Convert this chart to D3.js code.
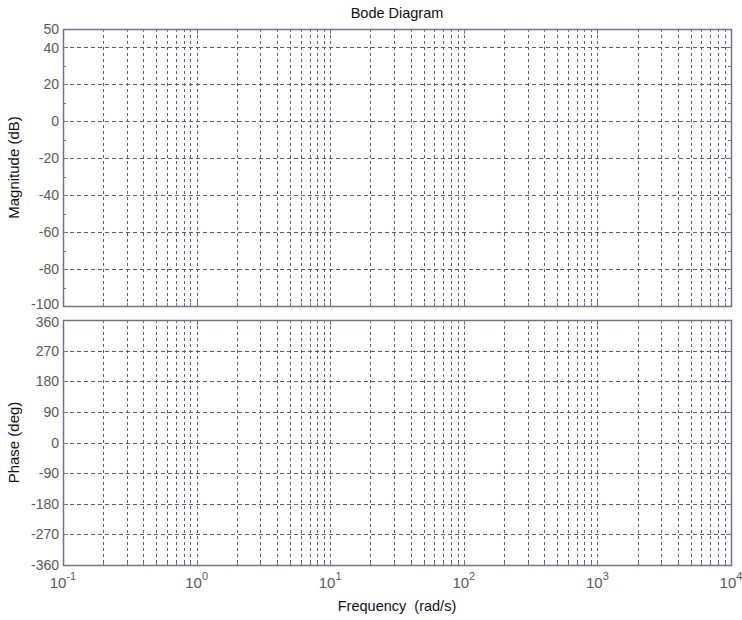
<!DOCTYPE html>
<html lang="en">
<head>
  <meta charset="UTF-8">
  <title>Bode Diagram</title>
  <script src="https://d3js.org/d3.v7.min.js"></script>
  <style>
    body {
      margin: 0;
      background: #ffffff;
      font-family: 'Liberation Sans', Arial, sans-serif;
    }
    .tick-label {
      font-size: 14px;
      fill: #585858;
    }
    .grid line {
      stroke: #5a5a82;
      stroke-width: 1;
      stroke-dasharray: 3,3;
    }
  </style>
</head>
<body>
  <div id="chart"></div>
  <script>
    const freqDomain = [0.1, 10000];
    const decades = [-1, 0, 1, 2, 3, 4];
    const magDomain = [-100, 50];
    const magTicks = [-100, -80, -60, -40, -20, 0, 20, 40, 50];
    const magMinor = [-90, -70, -50, -30, -10, 10, 30];
    const phaseDomain = [-360, 360];
    const phaseTicks = [-360, -270, -180, -90, 0, 90, 180, 270, 360];

    const W = 742, H = 620;
    const left = 63, right = 731;
    const magTop = 29, magBottom = 306;
    const phTop = 320, phBottom = 565;
    const axisColor = "#707090";

    const svg = d3.select("#chart").append("svg")
      .attr("width", W)
      .attr("height", H);

    const x = d3.scaleLog().domain(freqDomain).range([left, right]);

    // minor frequencies 2..9 x each decade
    const minorFreqs = [];
    decades.slice(0, -1).forEach(e => {
      for (let k = 2; k <= 9; k++) minorFreqs.push(k * Math.pow(10, e));
    });
    const majorFreqs = decades.map(e => Math.pow(10, e));

    // shiftLow / shiftHigh nudge the end labels apart where the panels meet
    function panel(yDomain, top, bottom, ticks, minor, shiftLow, shiftHigh) {
      const y = d3.scaleLinear().domain(yDomain).range([bottom, top]);
      const g = svg.append("g");

      // vertical grid
      const grid = g.append("g").attr("class", "grid");
      grid.selectAll(".vx")
        .data(minorFreqs.concat(majorFreqs.slice(1, -1)))
        .enter().append("line")
        .attr("x1", d => Math.round(x(d)) + 0.5)
        .attr("x2", d => Math.round(x(d)) + 0.5)
        .attr("y1", top)
        .attr("y2", bottom);

      // horizontal grid
      grid.selectAll(".hy")
        .data(ticks.filter(t => t > yDomain[0] && t < yDomain[1]))
        .enter().append("line")
        .attr("x1", left)
        .attr("x2", right)
        .attr("y1", d => Math.round(y(d)) + 0.5)
        .attr("y2", d => Math.round(y(d)) + 0.5)
        .style("stroke-dasharray", "4,3");

      // y axis ticks (inward, both sides)
      const yTicks = ticks.map(t => ({ v: t, len: 5 })).concat(minor.map(t => ({ v: t, len: 3 })));
      g.selectAll(".ytl")
        .data(yTicks)
        .enter().append("line")
        .attr("x1", left).attr("x2", d => left + d.len)
        .attr("y1", d => Math.round(y(d.v)) + 0.5)
        .attr("y2", d => Math.round(y(d.v)) + 0.5)
        .attr("stroke", axisColor);
      g.selectAll(".ytr")
        .data(yTicks)
        .enter().append("line")
        .attr("x1", right).attr("x2", d => right - d.len)
        .attr("y1", d => Math.round(y(d.v)) + 0.5)
        .attr("y2", d => Math.round(y(d.v)) + 0.5)
        .attr("stroke", axisColor);

      // x ticks top and bottom
      const xTicks = majorFreqs.map(f => ({ f, len: 5 })).concat(minorFreqs.map(f => ({ f, len: 3 })));
      g.selectAll(".xtb")
        .data(xTicks)
        .enter().append("line")
        .attr("x1", d => Math.round(x(d.f)) + 0.5)
        .attr("x2", d => Math.round(x(d.f)) + 0.5)
        .attr("y1", bottom).attr("y2", d => bottom - d.len)
        .attr("stroke", axisColor);
      g.selectAll(".xtt")
        .data(xTicks)
        .enter().append("line")
        .attr("x1", d => Math.round(x(d.f)) + 0.5)
        .attr("x2", d => Math.round(x(d.f)) + 0.5)
        .attr("y1", top).attr("y2", d => top + d.len)
        .attr("stroke", axisColor);

      // frame
      g.append("rect")
        .attr("x", left + 0.5).attr("y", top + 0.5)
        .attr("width", right - left).attr("height", bottom - top)
        .attr("fill", "none")
        .attr("stroke", axisColor)
        .attr("stroke-width", 1.5);

      // y labels
      g.selectAll(".ylab")
        .data(ticks)
        .enter().append("text")
        .attr("class", "tick-label")
        .attr("x", left - 4)
        .attr("y", d => y(d) + (d === yDomain[0] ? shiftLow : d === yDomain[1] ? shiftHigh : 0))
        .attr("dy", "0.36em")
        .attr("text-anchor", "end")
        .text(d => d);

      return y;
    }

    panel(magDomain, magTop, magBottom, magTicks, magMinor, -2, 0);
    panel(phaseDomain, phTop, phBottom, phaseTicks, [], 0, 2);

    // x tick labels 10^n
    const xl = svg.selectAll(".xlab")
      .data(decades)
      .enter().append("text")
      .attr("class", "tick-label")
      .style("font-size", "15px")
      .attr("x", d => x(Math.pow(10, d)))
      .attr("y", 588)
      .attr("text-anchor", "middle");
    xl.append("tspan").text("10");
    xl.append("tspan")
      .attr("dy", -8)
      .style("font-size", "11px")
      .text(d => d);

    // titles
    svg.append("text")
      .attr("x", (left + right) / 2)
      .attr("y", 18)
      .attr("text-anchor", "middle")
      .style("font-size", "14.5px")
      .attr("fill", "#111")
      .text("Bode Diagram");

    svg.append("text")
      .attr("x", (left + right) / 2)
      .attr("y", 611)
      .attr("text-anchor", "middle")
      .style("font-size", "14.5px")
      .attr("fill", "#111")
      .attr("xml:space", "preserve")
      .text("Frequency  (rad/s)");

    svg.append("text")
      .attr("transform", `translate(19,${(magTop + magBottom) / 2}) rotate(-90)`)
      .attr("text-anchor", "middle")
      .style("font-size", "15px")
      .attr("fill", "#111")
      .text("Magnitude (dB)");

    svg.append("text")
      .attr("transform", `translate(19,${(phTop + phBottom) / 2}) rotate(-90)`)
      .attr("text-anchor", "middle")
      .style("font-size", "15px")
      .attr("fill", "#111")
      .text("Phase (deg)");
  </script>
</body>
</html>
